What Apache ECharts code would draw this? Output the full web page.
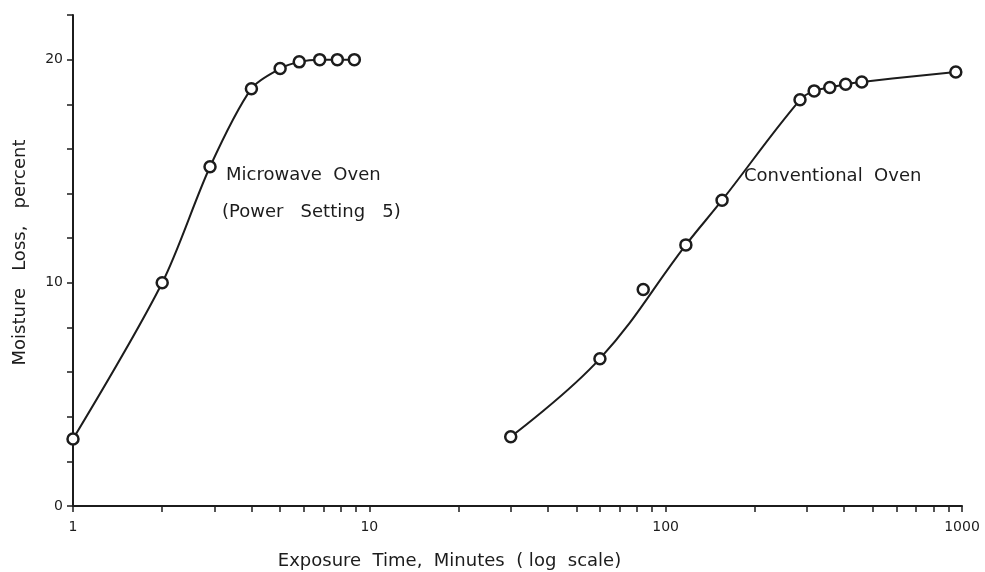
<!DOCTYPE html>
<html>
<head>
<meta charset="utf-8">
<script src="https://cdn.jsdelivr.net/npm/echarts@6/dist/echarts.min.js"></script>
<style>
  html, body { margin: 0; padding: 0; background: #fff; }
  #chart { width: 985px; height: 572px; }
</style>
</head>
<body>
<div id="chart"></div>
<script>
// Exposure time (minutes) and moisture loss (percent) for each oven
const microwaveMinutes = [1, 2, 2.9, 4, 5, 5.8, 6.8, 7.8, 8.9];
const microwaveLoss    = [3.0, 10.0, 15.2, 18.7, 19.6, 19.9, 20.0, 20.0, 20.0];

const conventionalMinutes = [30, 60, 84, 117, 155, 284, 317, 358, 405, 459, 953];
const conventionalLoss    = [3.1, 6.6, 9.7, 11.7, 13.7, 18.2, 18.6, 18.75, 18.9, 19.0, 19.45];

// The conventional-oven fitted curve passes beside the 84-minute reading
const conventionalCurveSkip = [2];

// Log-axis ticks: 1..9 in each decade, labels on the decades
const xTickValues = [1, 2, 3, 4, 5, 6, 7, 8, 9, 10, 20, 30, 40, 50, 60, 70, 80, 90,
                     100, 200, 300, 400, 500, 600, 700, 800, 900, 1000];
const xLabelValues = [1, 10, 100, 1000];
const yLabelValues = [0, 10, 20];

const xTitle = 'Exposure  Time,  Minutes  ( log  scale)';
const yTitle = 'Moisture   Loss,   percent';
const microwaveText = ['Microwave  Oven', '(Power   Setting   5)'];
const conventionalText = 'Conventional  Oven';

const ink = '#1c1c1c';
const font = 'DejaVu Sans';

function pairs(xs, ys, skip) {
  return xs.map((x, i) => [x, ys[i]]).filter((_, i) => !(skip || []).includes(i));
}

const lineStyle = { color: ink, width: 2, opacity: 1 };
const markerStyle = { color: '#fff', borderColor: ink, borderWidth: 2.5, opacity: 1 };

const chart = echarts.init(document.getElementById('chart'), null, { renderer: 'canvas' });

chart.setOption({
  animation: false,
  backgroundColor: '#fff',
  grid: { left: 73, right: 23, top: 15, bottom: 66, containLabel: false, outerBoundsMode: 'none' },
  xAxis: {
    type: 'log',
    logBase: 10,
    min: 1,
    max: 1000,
    name: xTitle,
    nameLocation: 'middle',
    nameGap: 46,
    nameTextStyle: { fontFamily: font, fontSize: 18, color: ink, padding: [0, 136, 0, 0] },
    axisLine: { show: true, lineStyle: { color: ink, width: 2 } },
    axisTick: { show: true, inside: false, length: 6, lineStyle: { color: ink, width: 1.5 }, customValues: xTickValues },
    minorTick: { show: false },
    axisLabel: {
      fontFamily: font, fontSize: 14, color: ink, margin: 14,
      customValues: xLabelValues,
      formatter: v => String(v)
    },
    splitLine: { show: false }
  },
  yAxis: {
    type: 'value',
    min: 0,
    max: 22,
    interval: 2,
    name: yTitle,
    nameLocation: 'middle',
    nameRotate: 90,
    nameGap: 44,
    nameTextStyle: { fontFamily: font, fontSize: 18, color: ink, padding: [0, 0, 0, 16] },
    axisLine: { show: true, lineStyle: { color: ink, width: 2 } },
    axisTick: { show: true, inside: false, length: 6, lineStyle: { color: ink, width: 1.5 } },
    axisLabel: { fontFamily: font, fontSize: 14, color: ink, margin: 10, customValues: yLabelValues },
    splitLine: { show: false }
  },
  series: [
    {
      name: 'Microwave Oven',
      type: 'line',
      smooth: 0.3,
      data: pairs(microwaveMinutes, microwaveLoss),
      symbol: 'circle',
      symbolSize: 11,
      lineStyle: lineStyle,
      itemStyle: markerStyle,
      emphasis: { disabled: true },
      z: 3
    },
    {
      name: 'Conventional Oven curve',
      type: 'line',
      smooth: 0.4,
      data: pairs(conventionalMinutes, conventionalLoss, conventionalCurveSkip),
      showSymbol: false,
      lineStyle: lineStyle,
      emphasis: { disabled: true },
      z: 2
    },
    {
      name: 'Conventional Oven',
      type: 'scatter',
      data: pairs(conventionalMinutes, conventionalLoss),
      symbol: 'circle',
      symbolSize: 11,
      itemStyle: markerStyle,
      emphasis: { disabled: true },
      z: 3
    }
  ],
  graphic: [
    { type: 'text', left: 226, top: 166, style: { text: microwaveText[0], font: '18px "' + font + '"', fill: ink } },
    { type: 'text', left: 222, top: 203, style: { text: microwaveText[1], font: '18px "' + font + '"', fill: ink } },
    { type: 'text', left: 744, top: 167, style: { text: conventionalText, font: '18px "' + font + '"', fill: ink } }
  ]
});
</script>
</body>
</html>
